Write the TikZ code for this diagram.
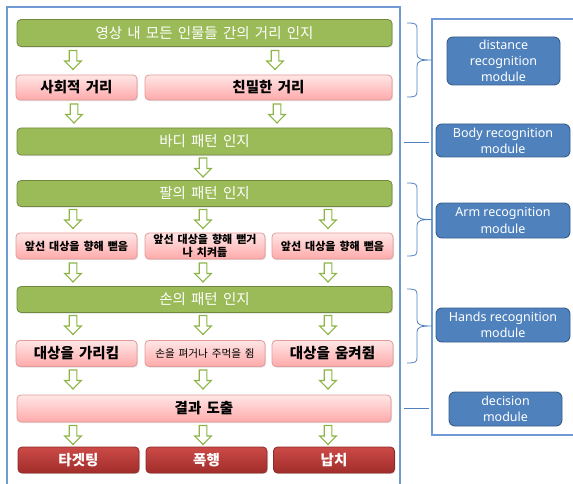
\documentclass[tikz,border=0pt]{standalone}
\usepackage{fontspec}
\setmainfont[WordSpace=1.6]{Noto Sans CJK KR}
\newfontfamily\latinf{Noto Sans}
\usetikzlibrary{shadows}
\definecolor{ogreen}{HTML}{9BBB59}
\definecolor{ogreenb}{HTML}{71893F}
\definecolor{pinktop}{HTML}{FFE6E6}
\definecolor{pinkbot}{HTML}{FFAAAA}
\definecolor{pinkb}{HTML}{E39A98}
\definecolor{redtop}{HTML}{CB4A47}
\definecolor{redbot}{HTML}{A12D2A}
\definecolor{redb}{HTML}{8C2A28}
\definecolor{oblue}{HTML}{4F81BD}
\definecolor{obluebd}{HTML}{385D8A}
\definecolor{frameblue}{HTML}{6F9AD3}
\definecolor{arrgreen}{HTML}{8DB446}
\tikzset{
  boxbase/.style={rectangle, rounded corners=4pt, inner sep=0pt, align=center,
    drop shadow={shadow xshift=1pt, shadow yshift=-1.2pt, opacity=0.25}},
  greenbox/.style={boxbase, fill=ogreen, draw=ogreenb, line width=0.8pt, text=white,
    font=\fontsize{14.5}{16}\selectfont, minimum width=375pt, minimum height=27pt},
  pinkbox/.style={boxbase, top color=pinktop, bottom color=pinkbot, draw=pinkb, line width=0.8pt,
    text=black, font=\bfseries\fontsize{14.5}{16}\selectfont, minimum height=26pt},
  redbox/.style={boxbase, top color=redtop, bottom color=redbot, draw=redb, line width=0.8pt,
    text=white, font=\bfseries\fontsize{14.5}{16}\selectfont, minimum width=121pt, minimum height=26pt},
  bluebox/.style={rectangle, rounded corners=6pt, inner sep=0pt, align=center, fill=oblue,
    draw=obluebd, line width=0.9pt, text=white, font=\latinf\fontsize{12.5}{16.3}\selectfont},
  framestyle/.style={draw=frameblue, line width=1.3pt},
  bracestyle/.style={draw=oblue, line width=0.8pt},
  garrstyle/.style={draw=arrgreen, fill=white, line width=1.1pt, line join=miter},
}
\newcommand\garr[2]{%
  \draw[garrstyle] ({#1-3.8},#2) -- ({#1+3.8},#2) -- ({#1+3.8},{#2+10.5}) -- ({#1+8.3},{#2+10.5})
    -- (#1,{#2+19}) -- ({#1-8.3},{#2+10.5}) -- ({#1-3.8},{#2+10.5}) -- cycle;}
\newcommand\modbrace[3]{% x of ends, ytop, ybottom
  \draw[bracestyle] (#1,#2) .. controls ({#1+9},#2) and ({#1+10},{#2+1}) .. ({#1+10},{#2+6})
    -- ({#1+10},{(#2+#3)/2-6}) .. controls ({#1+10},{(#2+#3)/2-1}) and ({#1+14},{(#2+#3)/2}) .. ({#1+25},{(#2+#3)/2})
    ({#1+25},{(#2+#3)/2}) .. controls ({#1+14},{(#2+#3)/2}) and ({#1+10},{(#2+#3)/2+1}) .. ({#1+10},{(#2+#3)/2+6})
    -- ({#1+10},{#3-6}) .. controls ({#1+10},{#3-1}) and ({#1+9},#3) .. (#1,#3);}
\begin{document}
\begin{tikzpicture}[x=1pt, y=-1pt]
\useasboundingbox (0,0) rectangle (573,484);
\clip (0,0) rectangle (573,484);
% frames
\draw[framestyle] (7,495) -- (7,7) -- (400,7) -- (400,495);
\draw[framestyle] (590,19) -- (432,19) -- (432,435) -- (590,435);
% left flow
\node[greenbox] (g1) at (204.5,33) {영상 내 모든 인물들 간의 거리 인지};
\node[pinkbox, minimum width=121pt, minimum height=25pt] (p1) at (76.5,87.5) {사회적 거리};
\node[pinkbox, minimum width=247pt, minimum height=25pt] (p2) at (268.5,87.5) {친밀한 거리};
\node[greenbox] (g2) at (204.5,141.5) {바디 패턴 인지};
\node[greenbox, minimum height=26pt] (g3) at (204.5,193.5) {팔의 패턴 인지};
\node[pinkbox, minimum width=121pt, font=\bfseries\fontsize{11}{12}\selectfont] (a1) at (76.5,246) {앞선 대상을 향해 뻗음};
\node[pinkbox, minimum width=120pt, font=\bfseries\fontsize{11}{12.5}\selectfont] (a2) at (205,246) {앞선 대상을 향해 뻗거\\나 치켜듦};
\node[pinkbox, minimum width=121pt, font=\bfseries\fontsize{11}{12}\selectfont] (a3) at (332.5,246) {앞선 대상을 향해 뻗음};
\node[greenbox, minimum height=26pt] (g4) at (204.5,299.5) {손의 패턴 인지};
\node[pinkbox, minimum width=121pt] (h1) at (76.5,353.5) {대상을 가리킴};
\node[pinkbox, minimum width=120pt, font=\fontsize{10.6}{12}\selectfont] (h2) at (205,353.5) {손을 펴거나 주먹을 쥠};
\node[pinkbox, minimum width=121pt] (h3) at (332.5,353.5) {대상을 움켜쥠};
\node[pinkbox, minimum width=374pt, minimum height=27pt] (r) at (204,408.5) {결과 도출};
\node[redbox] (o1) at (78.5,460) {타겟팅};
\node[redbox] (o2) at (206.5,460) {폭행};
\node[redbox] (o3) at (334,460) {납치};
% arrows
\garr{73}{50.5}\garr{275}{50.5}
\garr{74}{104}\garr{277}{104}
\garr{203}{158}
\foreach \xx in {73,203,328}{\garr{\xx}{209.5}\garr{\xx}{263}\garr{\xx}{315.5}\garr{\xx}{370}\garr{\xx}{425.5}}
% braces and ticks
\modbrace{407}{23}{97}
\draw[bracestyle] (404,142) -- (429,142);
\modbrace{407}{183}{256}
\modbrace{407}{289}{363}
\draw[bracestyle] (404,408) -- (429,408);
% modules
\node[bluebox, minimum width=113pt, minimum height=48pt] (m1) at (503.5,61) {distance\\recognition\\module};
\node[bluebox, minimum width=134pt, minimum height=33pt] (m2) at (503,140.5) {Body recognition\\module};
\node[bluebox, minimum width=134pt, minimum height=35pt] (m3) at (503,220.5) {Arm recognition\\module};
\node[bluebox, minimum width=134pt, minimum height=34pt] (m4) at (503,325) {Hands recognition\\module};
\node[bluebox, minimum width=113pt, minimum height=34pt] (m5) at (505.5,409) {decision\\module};
\end{tikzpicture}
\end{document}
